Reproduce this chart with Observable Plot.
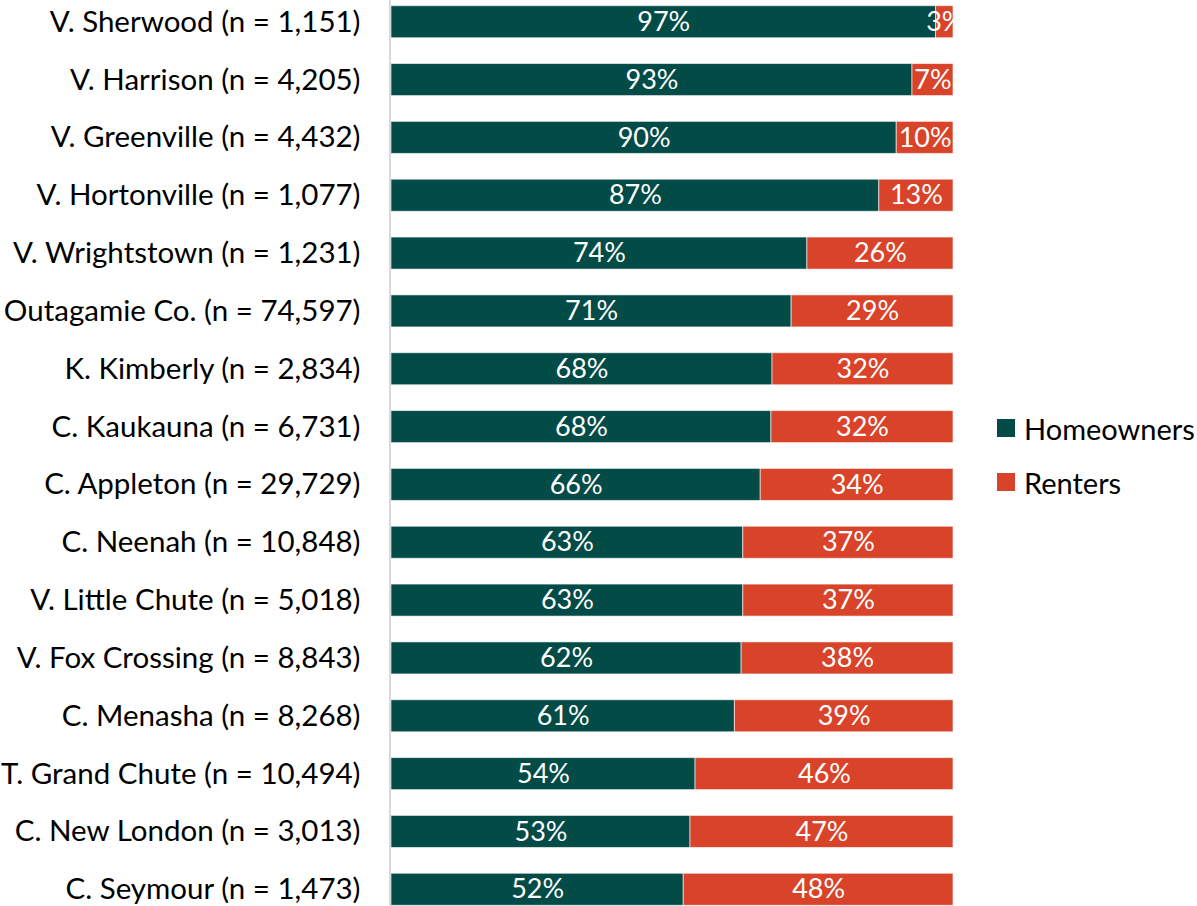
<!DOCTYPE html>
<html>
<head>
<meta charset="utf-8">
<script src="https://cdn.jsdelivr.net/npm/d3@7"></script>
<script src="https://cdn.jsdelivr.net/npm/@observablehq/plot@0.6"></script>
<style>
  html, body { margin: 0; padding: 0; background: #fff; }
  #wrap { position: relative; width: 1197px; height: 906px; overflow: hidden; font-family: Lato, sans-serif; }
  .leg { position: absolute; left: 997px; display: flex; align-items: center; font-size: 29px; color: #000; }
  .sw { width: 18px; height: 18px; margin-right: 9px; flex: none; }
</style>
</head>
<body>
<div id="wrap"></div>
<script>
const places = ["V. Sherwood", "V. Harrison", "V. Greenville", "V. Hortonville", "V. Wrightstown",
  "Outagamie Co.", "K. Kimberly", "C. Kaukauna", "C. Appleton", "C. Neenah", "V. Little Chute",
  "V. Fox Crossing", "C. Menasha", "T. Grand Chute", "C. New London", "C. Seymour"];
const households = [1151, 4205, 4432, 1077, 1231, 74597, 2834, 6731, 29729, 10848, 5018, 8843, 8268, 10494, 3013, 1473];
const homeowners = [96.9, 92.7, 89.9, 86.8, 74.0, 71.2, 67.8, 67.6, 65.7, 62.6, 62.6, 62.3, 61.1, 54.1, 53.2, 52.0];
const renters    = [3.1, 7.3, 10.1, 13.2, 26.0, 28.8, 32.2, 32.4, 34.3, 37.4, 37.4, 37.7, 38.9, 45.9, 46.8, 48.0];
const seriesNames = ["Homeowners", "Renters"];
const seriesColors = ["#024B47", "#D9432A"];

const fmt = d3.format(",");
const rowLabels = places.map((p, i) => `${p} (n = ${fmt(households[i])})`);

const data = [];
places.forEach((p, i) => {
  data.push({row: rowLabels[i], type: seriesNames[0], value: homeowners[i]});
  data.push({row: rowLabels[i], type: seriesNames[1], value: renters[i]});
});

const chart = Plot.plot({
  width: 1197,
  height: 906,
  marginLeft: 391,
  marginRight: 244,
  marginTop: 0,
  marginBottom: 0,
  style: {fontFamily: "Lato, sans-serif", fontSize: "29.5px", color: "#000", background: "#fff"},
  x: {domain: [0, 100], axis: null},
  y: {domain: rowLabels, range: [5.7, 905.3], paddingInner: 0.446, paddingOuter: 0, round: false, label: null},
  color: {domain: seriesNames, range: seriesColors},
  marks: [
    Plot.barX(data, Plot.stackX({x: "value", y: "row", fill: "type", stroke: "#ffffff", strokeOpacity: 0.6, strokeWidth: 1})),
    Plot.text(data, Plot.stackX({x: "value", y: "row", z: "type", text: d => Math.round(d.value) + "%", fill: "#fff", fontSize: 27, clip: true})),
    Plot.ruleX([0], {stroke: "#d9d9d9", strokeWidth: 2, dx: -1.5}),
    Plot.axisY({tickSize: 0, tickPadding: 31, fontSize: 29.5, fill: "#000"})
  ]
});
const wrap = document.getElementById("wrap");
wrap.appendChild(chart);

seriesNames.forEach((name, i) => {
  const div = document.createElement("div");
  div.className = "leg";
  div.style.top = (i === 0 ? 412 : 466) + "px";
  div.style.height = "32px";
  const sw = document.createElement("span");
  sw.className = "sw";
  sw.style.background = seriesColors[i];
  const tx = document.createElement("span");
  tx.textContent = name;
  tx.style.whiteSpace = "nowrap";
  div.appendChild(sw);
  div.appendChild(tx);
  wrap.appendChild(div);
});
</script>
</body>
</html>
